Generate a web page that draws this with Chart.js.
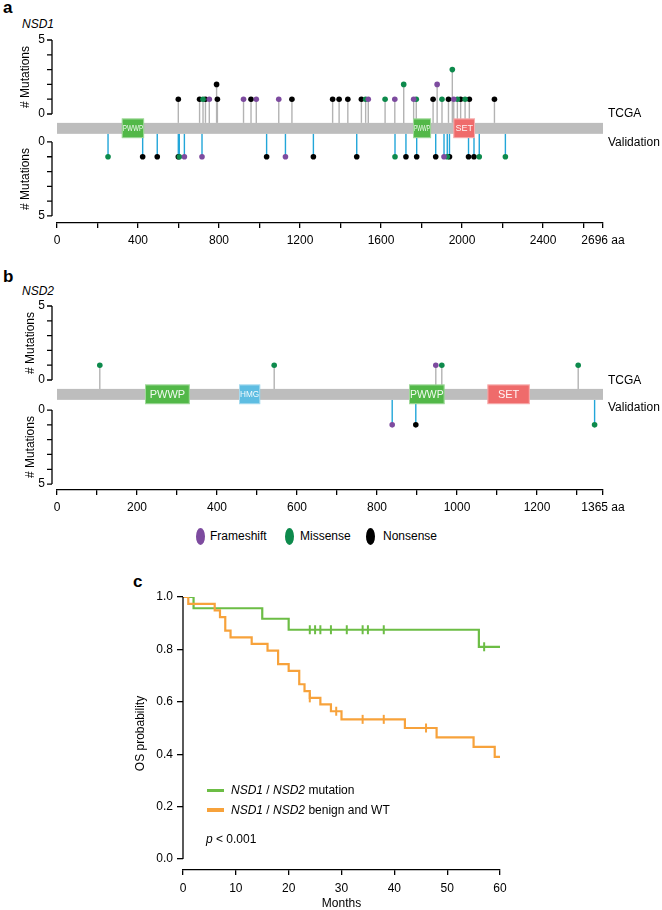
<!DOCTYPE html>
<html lang="en">
<head>
<meta charset="UTF-8" />
<title>NSD1 / NSD2 mutations and survival</title>
<style>
  body { margin: 0; background: #fff; font-family: "Liberation Sans", Arial, Helvetica, sans-serif; color: #000; }
  #page { position: relative; width: 662px; height: 910px; overflow: hidden; }
  canvas { position: absolute; left: 0; }
  .lbl { position: absolute; font-size: 12px; line-height: 14px; white-space: nowrap; }
  .panel { position: absolute; font-size: 17px; font-weight: bold; line-height: 17px; }
  .dot { position: absolute; width: 9px; height: 17px; border-radius: 50%; }
  .swatch { position: absolute; width: 17px; height: 3.5px; }
  i { font-style: italic; }
</style>
</head>
<body>
<div id="page">
  <div class="panel" style="left:3px; top:-1px;">a</div>
  <div class="lbl" style="left:22px; top:17px;"><i>NSD1</i></div>
  <canvas id="chartA" width="662" height="250" style="top:0px;"></canvas>
  <div class="lbl" style="left:608px; top:106px;">TCGA</div>
  <div class="lbl" style="left:608px; top:135px;">Validation</div>

  <div class="panel" style="left:3px; top:268px;">b</div>
  <div class="lbl" style="left:22px; top:284px;"><i>NSD2</i></div>
  <canvas id="chartB" width="662" height="250" style="top:266px;"></canvas>
  <div class="lbl" style="left:608px; top:373px;">TCGA</div>
  <div class="lbl" style="left:608px; top:400px;">Validation</div>

  <div class="dot" style="left:195.5px; top:527.5px; background:#7d4b9f;"></div>
  <div class="lbl" style="left:210px; top:529px;">Frameshift</div>
  <div class="dot" style="left:284.5px; top:527.5px; background:#0d8a4c;"></div>
  <div class="lbl" style="left:300px; top:529px;">Missense</div>
  <div class="dot" style="left:366px; top:527.5px; background:#000;"></div>
  <div class="lbl" style="left:383px; top:529px;">Nonsense</div>

  <div class="panel" style="left:133px; top:573px;">c</div>
  <canvas id="chartC" width="662" height="350" style="top:560px;"></canvas>
  <div class="swatch" style="left:207px; top:788.5px; background:#6cbd45;"></div>
  <div class="lbl" style="left:231px; top:783px;"><i>NSD1</i> / <i>NSD2</i> mutation</div>
  <div class="swatch" style="left:207px; top:808px; background:#f7a23b;"></div>
  <div class="lbl" style="left:231px; top:802.5px;"><i>NSD1</i> / <i>NSD2</i> benign and WT</div>
  <div class="lbl" style="left:206px; top:832px;"><i>p</i> &lt; 0.001</div>
</div>

<script src="https://cdn.jsdelivr.net/npm/chart.js@4.4.1/dist/chart.umd.min.js"></script>
<script>
  // ---- NSD1 (panel a) ----
  const nsd1Length = 2696;
  const nsd1TcgaPos   = [599, 704, 721, 733, 752, 788, 792, 921, 958, 984, 1095, 1160, 1361, 1393, 1436, 1503, 1524, 1537,
                         1620, 1668, 1712, 1761, 1774, 1857, 1877, 1901, 1933, 1952, 1959, 1977, 1993, 2015, 2036, 2160];
  const nsd1TcgaCount = [1, 1, 1, 1, 1, 2, 1, 1, 1, 1, 1, 1, 1, 1, 1, 1, 1, 1,
                         1, 1, 2, 1, 1, 1, 2, 1, 1, 3, 1, 1, 1, 1, 1, 1];
  const nsd1TcgaType  = ['N', 'N', 'M', 'N', 'F', 'N', 'N', 'F', 'N', 'F', 'F', 'N', 'N', 'N', 'N', 'N', 'M', 'F',
                         'M', 'F', 'M', 'F', 'M', 'N', 'F', 'M', 'N', 'M', 'F', 'M', 'N', 'M', 'N', 'N'];
  const nsd1ValPos    = [252, 423, 495, 599, 604, 629, 716, 1035, 1128, 1266, 1480, 1669, 1723, 1776, 1870, 1911, 1927, 1938, 2032, 2059, 2085, 2214];
  const nsd1ValCount  = [1, 1, 1, 1, 1, 1, 1, 1, 1, 1, 1, 1, 1, 1, 1, 1, 1, 1, 1, 1, 1, 1];
  const nsd1ValType   = ['M', 'N', 'N', 'N', 'M', 'F', 'F', 'N', 'F', 'N', 'N', 'M', 'N', 'N', 'N', 'F', 'M', 'N', 'N', 'N', 'M', 'M'];
  const nsd1DomainName  = ['PWWP', 'PWWP', 'SET'];
  const nsd1DomainStart = [320, 1758, 1957];
  const nsd1DomainEnd   = [430, 1847, 2064];

  // ---- NSD2 (panel b) ----
  const nsd2Length = 1365;
  const nsd2TcgaPos   = [107, 543, 947, 962, 1303];
  const nsd2TcgaCount = [1, 1, 1, 1, 1];
  const nsd2TcgaType  = ['M', 'M', 'F', 'M', 'M'];
  const nsd2ValPos    = [838, 897, 1344];
  const nsd2ValCount  = [1, 1, 1];
  const nsd2ValType   = ['F', 'N', 'M'];
  const nsd2DomainName  = ['PWWP', 'HMG', 'PWWP', 'SET'];
  const nsd2DomainStart = [220, 455, 880, 1076];
  const nsd2DomainEnd   = [332, 508, 969, 1182];

  // ---- Kaplan-Meier (panel c) ----
  const mutMonths = [0, 2, 15, 20, 56, 60];
  const mutSurv   = [1, 0.957, 0.917, 0.875, 0.81, 0.81];
  const mutCensor = [24, 25, 26, 28, 31, 34, 35, 38, 57];
  const wtMonths  = [0, 1, 6, 7, 8, 9, 13, 16, 18, 20, 22, 23, 24, 26, 28, 30, 42, 48, 55, 59, 60];
  const wtSurv    = [1, 0.974, 0.949, 0.923, 0.872, 0.846, 0.821, 0.795, 0.744, 0.718, 0.667, 0.641, 0.615, 0.59, 0.564, 0.533, 0.5, 0.464, 0.428, 0.39, 0.39];
  const wtCensor  = [24, 29, 34, 38, 46];
  const kmTicksY  = [0, 0.2, 0.4, 0.6, 0.8, 1.0];

  const TYPE_COLOR = { F: '#7d4b9f', M: '#0d8a4c', N: '#000000' };
  const DOMAIN_COLOR = { PWWP: '#52b848', HMG: '#5ebde2', SET: '#ef6b6b' };
  const FONT = '"Liberation Sans", Arial, Helvetica, sans-serif';

  Chart.defaults.font.family = FONT;
  Chart.defaults.font.size = 12;
  Chart.defaults.color = '#000';

  const proteinPlugin = {
    id: 'protein',
    beforeDatasetsDraw(chart, args, o) {
      const { ctx, scales: { x, y } } = chart;
      ctx.save();
      // stems, from the backbone edge to each dot
      chart.data.datasets.forEach((ds, i) => {
        const meta = chart.getDatasetMeta(i);
        const base = y.getPixelForValue(ds.cohort === 'tcga' ? o.barTop : o.barBottom);
        ctx.strokeStyle = ds.cohort === 'tcga' ? '#b3b3b3' : '#22a6d9';
        ctx.lineWidth = 1.4;
        meta.data.forEach(pt => {
          ctx.beginPath();
          ctx.moveTo(pt.x, base);
          ctx.lineTo(pt.x, pt.y);
          ctx.stroke();
        });
      });
      // protein backbone
      const x0 = x.getPixelForValue(0), x1 = x.getPixelForValue(o.length);
      const bt = y.getPixelForValue(o.barTop), bb = y.getPixelForValue(o.barBottom);
      ctx.fillStyle = '#bdbdbd';
      ctx.fillRect(x0, bt, x1 - x0, bb - bt);
      // domains
      const dt = y.getPixelForValue(o.boxTop), db = y.getPixelForValue(o.boxBottom);
      o.names.forEach((name, i) => {
        const a = x.getPixelForValue(o.starts[i]), b = x.getPixelForValue(o.ends[i]);
        ctx.fillStyle = DOMAIN_COLOR[name];
        ctx.fillRect(a, dt, b - a, db - dt);
        ctx.strokeStyle = 'rgba(255,255,255,0.45)';
        ctx.lineWidth = 1;
        ctx.strokeRect(a + 0.5, dt + 0.5, b - a - 1, db - dt - 1);
        ctx.fillStyle = 'rgba(255,255,255,0.92)';
        ctx.font = (o.domainFont[name] || 11) + 'px ' + FONT;
        ctx.textAlign = 'center';
        ctx.textBaseline = 'middle';
        ctx.fillText(name, (a + b) / 2, (dt + db) / 2 + 0.5, b - a - 2);
      });
      ctx.restore();
    },
    afterDraw(chart, args, o) {
      const { ctx, chartArea, scales: { y } } = chart;
      const ax = chartArea.left - 5;
      ctx.save();
      ctx.strokeStyle = '#000';
      ctx.fillStyle = '#000';
      ctx.lineWidth = 1.3;
      // two half axes: TCGA upwards, validation downwards
      [[0, 1], [-o.gap, -1]].forEach(([v0, dir]) => {
        const zero = y.getPixelForValue(v0), top = y.getPixelForValue(v0 + dir * 5);
        ctx.beginPath();
        ctx.moveTo(ax, zero);
        ctx.lineTo(ax, top);
        for (let k = 0; k <= 5; k++) {
          const yy = y.getPixelForValue(v0 + dir * k);
          ctx.moveTo(ax - 5, yy);
          ctx.lineTo(ax, yy);
        }
        ctx.stroke();
        ctx.font = '12px ' + FONT;
        ctx.textAlign = 'right';
        ctx.textBaseline = 'middle';
        ctx.fillText('0', ax - 7, zero);
        ctx.fillText('5', ax - 7, top);
        ctx.save();
        ctx.translate(o.titleX, (zero + top) / 2);
        ctx.rotate(-Math.PI / 2);
        ctx.textAlign = 'center';
        ctx.fillText('# Mutations', 0, 0);
        ctx.restore();
      });
      ctx.restore();
    }
  };

  function mutDatasets(pos, count, type, cohort, gap) {
    return ['F', 'M', 'N'].map(t => ({
      cohort: cohort,
      data: pos.map((p, i) => ({ x: p, y: cohort === 'tcga' ? count[i] : -(gap + count[i]), t: type[i] }))
               .filter(d => d.t === t),
      backgroundColor: TYPE_COLOR[t],
      borderWidth: 0,
      pointRadius: 2.8
    }));
  }

  function lollipop(id, g) {
    const datasets = mutDatasets(g.tcgaPos, g.tcgaCount, g.tcgaType, 'tcga', g.gap)
      .concat(mutDatasets(g.valPos, g.valCount, g.valType, 'val', g.gap));
    return new Chart(document.getElementById(id), {
      type: 'scatter',
      data: { datasets },
      options: {
        responsive: false,
        animation: false,
        devicePixelRatio: 1,
        events: [],
        layout: { padding: { left: 57, right: 59, top: 40, bottom: 0 } },
        scales: {
          x: {
            type: 'linear', min: 0, max: g.length,
            afterBuildTicks: s => {
              const t = [];
              for (let v = 0; v < g.length; v += g.minorStep) t.push({ value: v });
              t.push({ value: g.length });
              s.ticks = t;
            },
            afterFit: s => { s.height = g.xHeight; },
            ticks: {
              autoSkip: false, maxRotation: 0, padding: 5, color: '#000',
              callback: v => v === g.length ? v + ' aa' : (v % g.labelStep === 0 ? String(v) : '')
            },
            grid: { drawOnChartArea: false, tickLength: 5, color: '#000', lineWidth: 1.3 },
            border: { display: true, color: '#000', width: 1.3 }
          },
          y: { display: false, min: g.yMin, max: 5 }
        },
        plugins: {
          legend: { display: false },
          tooltip: { enabled: false },
          protein: {
            length: g.length, names: g.names, starts: g.starts, ends: g.ends,
            barTop: -0.6, barBottom: -1.34, boxTop: -0.3, boxBottom: -1.63,
            gap: g.gap, titleX: g.titleX, domainFont: g.domainFont
          }
        }
      },
      plugins: [proteinPlugin]
    });
  }

  lollipop('chartA', {
    length: nsd1Length, tcgaPos: nsd1TcgaPos, tcgaCount: nsd1TcgaCount, tcgaType: nsd1TcgaType,
    valPos: nsd1ValPos, valCount: nsd1ValCount, valType: nsd1ValType,
    names: nsd1DomainName, starts: nsd1DomainStart, ends: nsd1DomainEnd,
    minorStep: 200, labelStep: 400, gap: 1.89, yMin: -7.365, xHeight: 27, titleX: 26,
    domainFont: { PWWP: 9, SET: 9 }
  });

  lollipop('chartB', {
    length: nsd2Length, tcgaPos: nsd2TcgaPos, tcgaCount: nsd2TcgaCount, tcgaType: nsd2TcgaType,
    valPos: nsd2ValPos, valCount: nsd2ValCount, valType: nsd2ValType,
    names: nsd2DomainName, starts: nsd2DomainStart, ends: nsd2DomainEnd,
    minorStep: 100, labelStep: 200, gap: 2.03, yMin: -7.43, xHeight: 26, titleX: 31,
    domainFont: { PWWP: 11, HMG: 9, SET: 11 }
  });

  // ---- Kaplan-Meier ----
  function survAt(months, surv, t) {
    let s = surv[0];
    months.forEach((m, i) => { if (m <= t) s = surv[i]; });
    return s;
  }

  const GREEN = '#6cbd45', ORANGE = '#f7a23b';

  const kmAxisPlugin = {
    id: 'kmAxis',
    afterDraw(chart) {
      const { ctx, chartArea, scales: { y } } = chart;
      ctx.save();
      ctx.strokeStyle = '#000';
      ctx.lineWidth = 1.3;
      ctx.beginPath();
      ctx.moveTo(chartArea.left, y.getPixelForValue(0));
      ctx.lineTo(chartArea.left, y.getPixelForValue(1));
      ctx.stroke();
      ctx.restore();
    }
  };

  new Chart(document.getElementById('chartC'), {
    type: 'line',
    data: {
      datasets: [
        {
          label: 'NSD1 / NSD2 benign and WT',
          data: wtMonths.map((m, i) => ({ x: m, y: wtSurv[i] })),
          borderColor: ORANGE, borderWidth: 2.2, pointRadius: 0, stepped: 'before', fill: false
        },
        {
          label: 'NSD1 / NSD2 mutation',
          data: mutMonths.map((m, i) => ({ x: m, y: mutSurv[i] })),
          borderColor: GREEN, borderWidth: 2.2, pointRadius: 0, stepped: 'before', fill: false
        },
        {
          label: 'WT censored',
          data: wtCensor.map(t => ({ x: t, y: survAt(wtMonths, wtSurv, t) })),
          showLine: false, pointStyle: 'line', rotation: 90, pointRadius: 4.5,
          borderColor: ORANGE, pointBorderWidth: 2
        },
        {
          label: 'Mutation censored',
          data: mutCensor.map(t => ({ x: t, y: survAt(mutMonths, mutSurv, t) })),
          showLine: false, pointStyle: 'line', rotation: 90, pointRadius: 4.5,
          borderColor: GREEN, pointBorderWidth: 2
        }
      ]
    },
    options: {
      responsive: false,
      animation: false,
      devicePixelRatio: 1,
      events: [],
      layout: { padding: { left: 129, right: 162, top: 37, bottom: 0 } },
      scales: {
        x: {
          type: 'linear', min: 0, max: 60,
          afterFit: s => { s.height = 40; },
          ticks: { stepSize: 10, maxRotation: 0, padding: 6, color: '#000' },
          grid: { drawOnChartArea: false, tickLength: 5, color: '#000', lineWidth: 1.3 },
          border: { display: true, color: '#000', width: 1.3 },
          title: { display: true, text: 'Months', color: '#000', padding: { top: -2, bottom: 0 }, font: { size: 12, lineHeight: 1 } }
        },
        y: {
          type: 'linear', min: -0.042, max: 1.0,
          afterBuildTicks: s => { s.ticks = kmTicksY.map(v => ({ value: v })); },
          afterFit: s => { s.width = 54; },
          ticks: { padding: 4, color: '#000', callback: v => v.toFixed(1) },
          grid: { drawOnChartArea: false, tickLength: 6, color: '#000', lineWidth: 1.3 },
          border: { display: false },
          title: { display: true, text: 'OS probability', color: '#000', padding: { top: 4, bottom: 4 }, font: { size: 12 } }
        }
      },
      plugins: { legend: { display: false }, tooltip: { enabled: false } }
    },
    plugins: [kmAxisPlugin]
  });
</script>
</body>
</html>
